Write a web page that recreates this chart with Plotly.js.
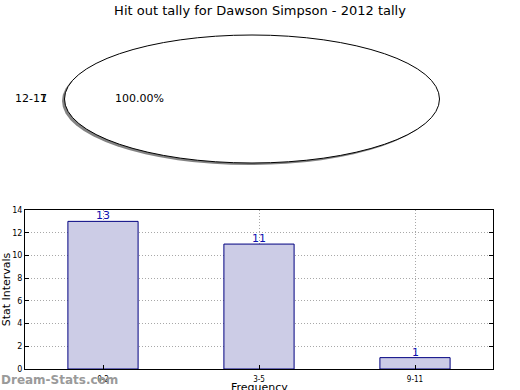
<!DOCTYPE html>
<html><head><meta charset="utf-8">
<script src="https://cdn.plot.ly/plotly-3.0.1.min.js"></script>
<style>body{margin:0;background:#fff}#chart{width:520px;height:390px}</style>
</head><body><div id="chart"></div>
<script>
// Pie data
const pieLabels = ['12-17'];
const pieValues = [1];
const piePercentText = ['100.00%'];
// Bar data
const barCategories = ['0-2', '3-5', '9-11'];
const barValues = [13, 11, 1];
const yTickVals = [0, 2, 4, 6, 8, 10, 12, 14];
const xTitle = 'Frequency';
const yTitle = 'Stat Intervals';

const pieCx = 252, sx = 187.5 / 64;
const L = 25, R = 27, T = 35, B = 21, W = 520, H = 390;
const pw = W - L - R, ph = H - T - B;
function fx(px) { return (px - L) / pw; }
function fy(py) { return (H - B - py) / ph; }
const rad = 64;
const pdx = [fx(pieCx - rad), fx(pieCx + rad)];
const pdy = [fy(163), fy(35)];
const sh = { x: -0.85 / pw, y: -2 / ph };

const traces = [
  { type: 'pie', labels: pieLabels, values: pieValues, sort: false,
    domain: { x: [pdx[0] + sh.x, pdx[1] + sh.x], y: [pdy[0] + sh.y, pdy[1] + sh.y] },
    marker: { colors: ['rgba(90,90,90,0.75)'], line: { width: 0 } },
    textinfo: 'none', hoverinfo: 'skip', showlegend: false },
  { type: 'pie', labels: pieLabels, values: pieValues, sort: false,
    domain: { x: pdx, y: pdy },
    marker: { colors: ['#ffffff'], line: { color: '#000000', width: 1 } },
    textinfo: 'none', hoverinfo: 'skip', showlegend: false },
  { type: 'bar', x: barCategories, y: barValues, width: 0.45,
    marker: { color: '#cccce6', line: { color: '#000080', width: 1 } },
    textposition: 'none', cliponaxis: false,
    showlegend: false, xaxis: 'x', yaxis: 'y' }
];

const barLabelAnns = barCategories.map(function (c, i) {
  return { text: String(barValues[i]), xref: 'x', yref: 'y', x: c, y: barValues[i], showarrow: false,
    xanchor: 'center', yanchor: 'bottom', yshift: -3,
    font: { family: 'DejaVu Sans', size: 11, color: '#1010b0' } };
});

const gridDash = '1px,2px';
const layout = {
  width: W, height: H,
  margin: { l: L, r: R, t: T, b: B, pad: 0 },
  paper_bgcolor: '#fff', plot_bgcolor: '#fff',
  font: { family: 'DejaVu Sans', color: '#000' }, showlegend: false,
  title: { text: 'Hit out tally for Dawson Simpson - 2012 tally', x: 0.5, xanchor: 'center', y: 1 - 10 / H, yanchor: 'middle', yref: 'container',
           font: { family: 'DejaVu Sans', size: 13, color: '#000' } },
  xaxis: { domain: [0, 1], range: [-0.5, 2.5], type: 'category', anchor: 'y',
           showline: true, linecolor: '#000', linewidth: 1, mirror: true,
           ticks: 'inside', ticklen: 4, tickcolor: '#000', ticklabelstandoff: 2,
           showgrid: true, gridcolor: '#a8a8a8', griddash: gridDash, gridwidth: 1,
           tickfont: { family: 'DejaVu Sans Condensed', size: 8, color: '#000' },
           automargin: false, fixedrange: true },
  yaxis: { domain: [0, fy(210)], range: [0, 14], tickvals: yTickVals, anchor: 'x',
           showline: true, linecolor: '#000', linewidth: 1, mirror: 'ticks',
           ticks: 'inside', ticklen: 4, tickcolor: '#000', zeroline: false,
           showgrid: true, gridcolor: '#a8a8a8', griddash: gridDash, gridwidth: 1,
           tickfont: { family: 'DejaVu Sans', size: 8, color: '#000' },
           title: { text: yTitle, standoff: 5, font: { family: 'DejaVu Sans', size: 11 } },
           automargin: false, fixedrange: true },
  annotations: barLabelAnns.concat([
    { text: xTitle, xref: 'paper', yref: 'paper', x: 0.5, y: fy(379), showarrow: false,
      xanchor: 'center', yanchor: 'top', font: { family: 'DejaVu Sans', size: 11, color: '#000' } },
    { text: pieLabels[0], xref: 'paper', yref: 'paper', x: fx(31), y: fy(99), showarrow: false,
      xanchor: 'center', yanchor: 'middle', font: { family: 'DejaVu Sans', size: 11, color: '#000' } },
    { text: String(pieValues[0]), xref: 'paper', yref: 'paper', x: fx(43), y: fy(99), showarrow: false,
      xanchor: 'center', yanchor: 'middle', font: { family: 'DejaVu Sans', size: 11, color: '#000' } },
    { text: piePercentText[0], xref: 'paper', yref: 'paper', x: fx(139), y: fy(99), showarrow: false,
      xanchor: 'center', yanchor: 'middle', font: { family: 'DejaVu Sans', size: 11, color: '#000' } },
    { text: '<b>Dream-Stats.com</b>', xref: 'paper', yref: 'paper', x: fx(-1), y: fy(380), showarrow: false,
      xanchor: 'left', yanchor: 'middle', font: { family: 'DejaVu Sans', size: 12, color: '#9a9a9a' } }
  ])
};

Plotly.newPlot('chart', traces, layout, { displayModeBar: false, staticPlot: true }).then(function (gd) {
  const layer = gd.querySelector('.pielayer');
  if (layer) {
    layer.setAttribute('transform', 'translate(' + pieCx + ',0) scale(' + sx + ',1) translate(' + (-pieCx) + ',0)');
    layer.querySelectorAll('path').forEach(function (p) { p.style.vectorEffect = 'non-scaling-stroke'; });
  }
});
</script></body></html>
